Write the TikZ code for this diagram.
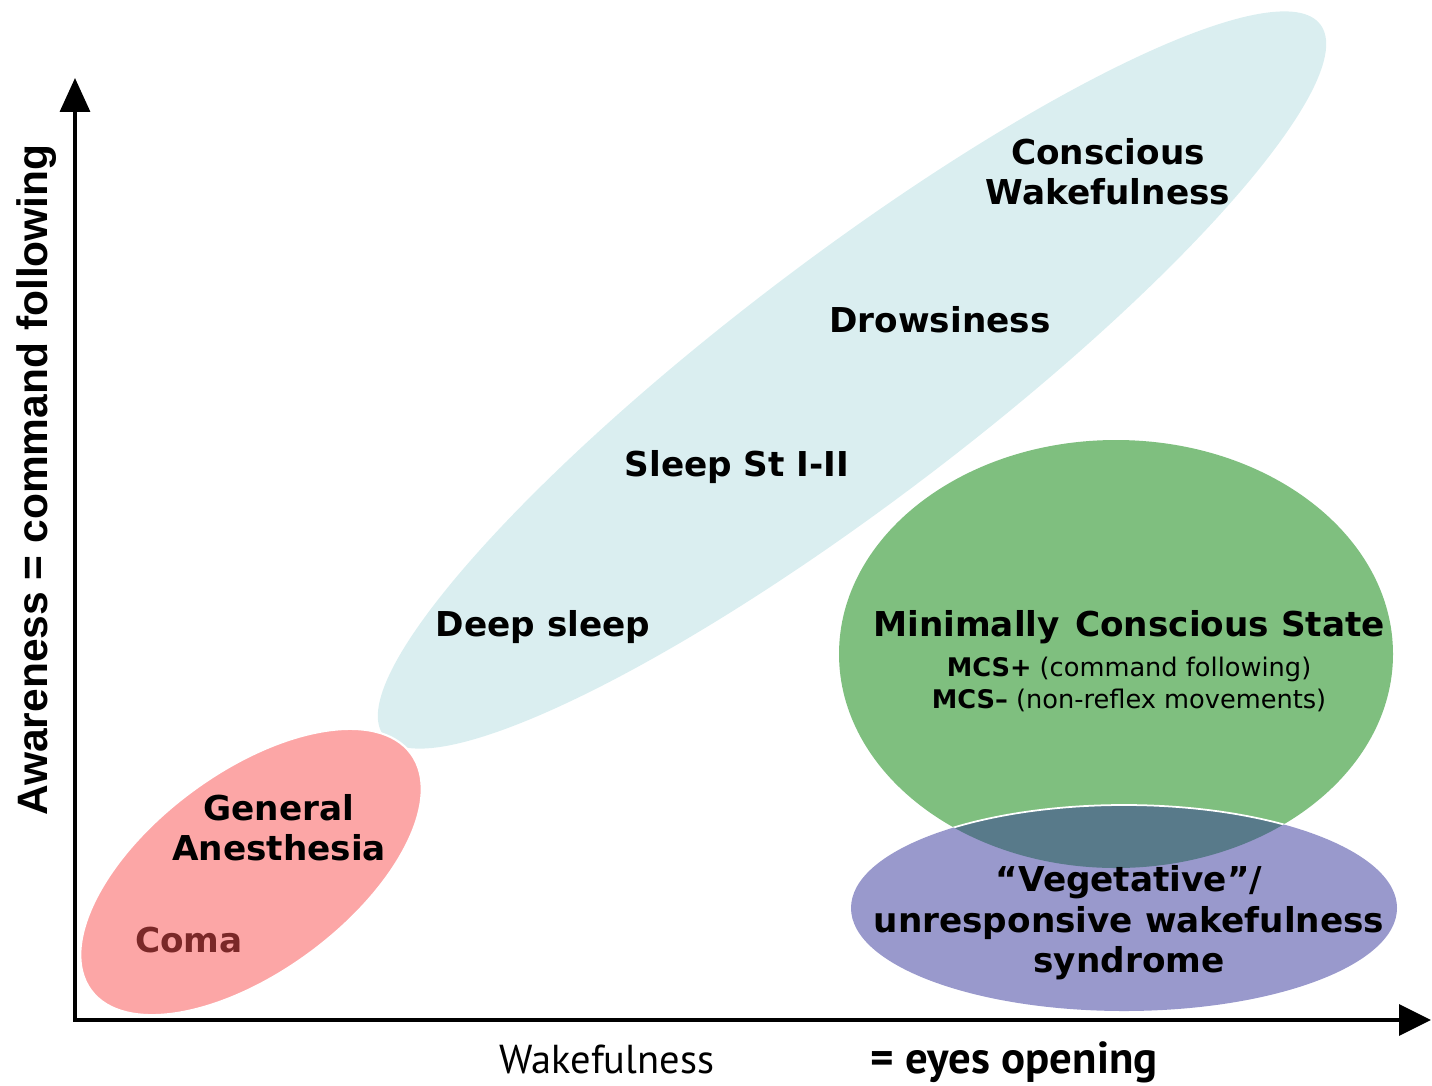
\documentclass[tikz,border=0pt]{standalone}
\usepackage{fontspec}
\setmainfont{DejaVu Sans}
\newfontfamily\axisfont{Liberation Sans}
\newfontfamily\condfont{PT Sans}
\usepackage{tikz}
\usetikzlibrary{arrows.meta}
\usetikzlibrary{positioning}

\definecolor{sleepblue}{HTML}{DAEEF0}
\definecolor{comapink}{HTML}{FCA6A6}
\definecolor{mcsgreen}{HTML}{7FBF7F}
\definecolor{vegpurple}{HTML}{9999CC}
\definecolor{overlapslate}{HTML}{587A8A}
\definecolor{comared}{HTML}{7A2828}

\tikzset{
    state/.style={
           font=\fontsize{19.5}{23}\selectfont\bfseries,
           align=center,
           inner sep=0pt,
           },
    substate/.style={
           font=\fontsize{14.6}{17}\selectfont,
           align=center,
           inner sep=0pt,
           },
    axisline/.style={
           line width=2pt,
           line join=miter,
           {Triangle[width=0.6cm,length=0.68cm]}-{Triangle[width=0.62cm,length=0.64cm]},
           },
}

\begin{document}
\begin{tikzpicture}[x=0.02cm,y=-0.02cm]
 \useasboundingbox (0,0) rectangle (1432,1085);

 % regions (drawn first, text on top)
 \fill[sleepblue, rotate around={37.2:(852,380)}] (852,380) ellipse (588 and 122);
 \filldraw[fill=comapink, draw=white, line width=1.2pt,
   rotate around={36.5:(251,872)}] (251,872) ellipse (199 and 100);
 \fill[mcsgreen] (1116,654) ellipse (277 and 214);
 \fill[vegpurple] (1124,908) ellipse (273 and 103);
 % overlap of MCS and vegetative state
 \begin{scope}
  \clip (1116,654) ellipse (277 and 214);
  \filldraw[fill=overlapslate, draw=white, line width=1pt] (1124,908) ellipse (273 and 103);
 \end{scope}

 % axes
 \coordinate (origin) at (75,1020);
 \coordinate (ytip) at (75,78);
 \coordinate (xtip) at (1431,1020);
 \draw[axisline] (ytip) -- (origin) -- (xtip);

 \node[rotate=90, inner sep=0pt,
   font=\axisfont\fontsize{24.2}{28}\selectfont\bfseries] (Awareness) at (37,480)
   {Awareness = command following};
 \node[anchor=base, inner sep=0pt,
   font=\condfont\fontsize{23}{27}\selectfont] (Wakefulness) at (607,1073)
   {Wakefulness};
 \node[anchor=base, inner sep=0pt,
   font=\condfont\fontsize{25.5}{29}\selectfont\bfseries] (Eyes) at (1014,1073)
   {= eyes opening};

 % states along the diagonal
 \node[state] (Conscious) at (1108,172) {Conscious\\Wakefulness};
 \node[state] (Drowsy) at (940,320) {Drowsiness};
 \node[state] (SleepI) at (737,467) {Sleep St I-II};
 \node[state] (DeepSleep) at (543,627) {Deep sleep};
 \node[state] (Anesthesia) at (279,828) {General\\Anesthesia};
 \node[state, text=comared] (Coma) at (189,940) {Coma};

 % disorders of consciousness
 \node[state] (MCS) at (1129,627) {Minimally\hspace{0.45em}Conscious State};
 \node[substate, below=7pt of MCS] (MCSplus)
   {\textbf{MCS+} (command following)};
 \node[substate, below=4pt of MCSplus] (MCSminus)
   {\textbf{MCS–} (non-reflex movements)};
 \node[state] (UWS) at (1129,923)
   {“Vegetative”/\\unresponsive wakefulness\\syndrome};

\end{tikzpicture}
\end{document}
